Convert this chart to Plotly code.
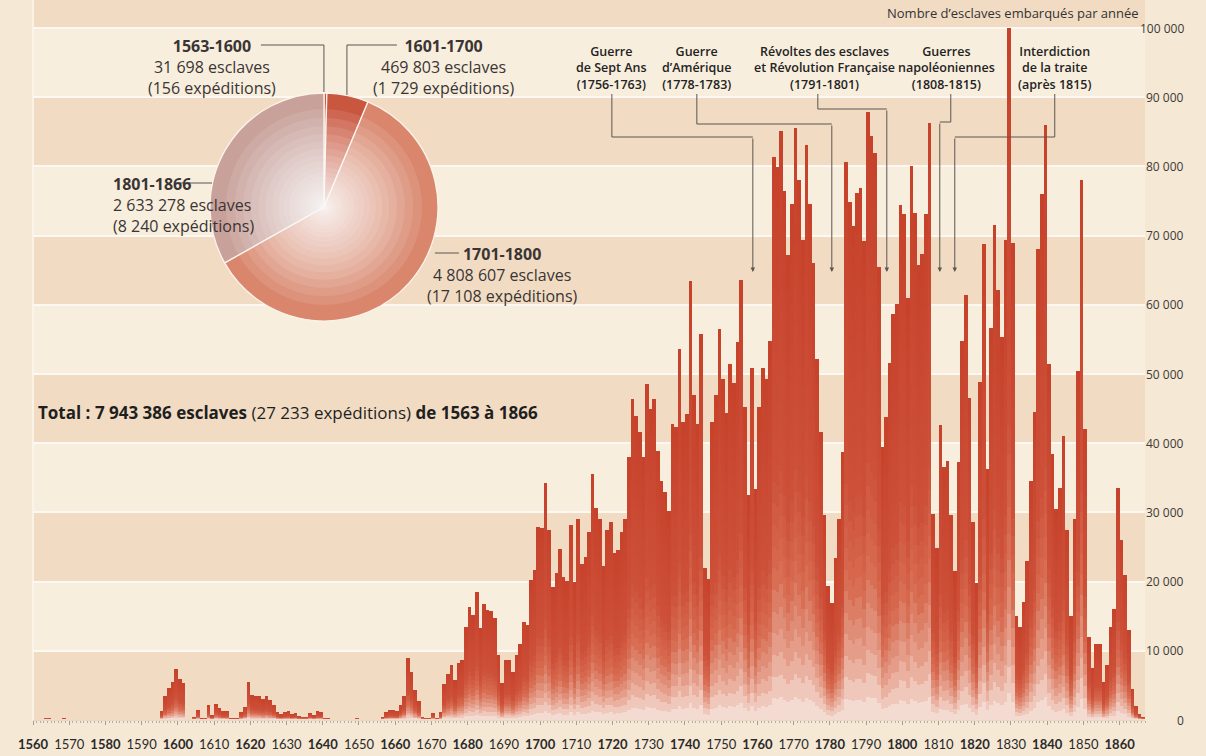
import plotly.graph_objects as go

# ---------------- data (thousands of slaves embarked per year) ----------------
years = list(range(1560, 1867))

slaves_1560_1599 = [0, 0, 0, 0.3, 0.2, 0, 0, 0.1, 0.2, 0,
                    0, 0, 0, 0, 0, 0, 0, 0, 0, 0,
                    0, 0, 0, 0, 0, 0, 0, 0.1, 0.1, 0,
                    0, 0, 0, 0, 0, 1.35, 3.4, 4.6, 5.5, 7.4]
slaves_1600_1699 = [5.9, 5.4, 0, 0, 0.5, 1.4, 0.2, 0.3, 2.1, 0.7,
                    2.3, 1.8, 1.3, 1.25, 0.2, 0.2, 0.2, 1.2, 1.9, 5.5,
                    3.6, 3.5, 3.4, 3.1, 3.4, 2.9, 2.2, 1.1, 0.8, 1.1,
                    1.25, 0.8, 1.0, 0.6, 0.5, 0.5, 1.0, 0.7, 1.25, 1.1,
                    0.3, 0.2, 0, 0, 0, 0, 0, 0, 0, 0.3,
                    0, 0, 0, 0, 0, 0, 0.5, 1.1, 1.45, 1.45,
                    1.3, 2.2, 3.4, 8.9, 7.0, 4.3, 2.8, 0.5, 0.3, 0.3,
                    1.0, 0.3, 1.2, 5.2, 6.7, 8.0, 5.8, 8.2, 8.7, 13.5,
                    16.4, 15.2, 18.5, 13.3, 16.7, 15.9, 15.8, 14.7, 9.4, 5.3,
                    8.7, 8.7, 7.0, 9.4, 11.0, 14.2, 13.7, 20.2, 21.7, 27.9]
slaves_1700_1799 = [27.7, 34.2, 27.5, 19.2, 21.3, 24.7, 20.6, 20.1, 28.2, 19.9,
                    29.0, 22.5, 23.5, 27.1, 35.5, 30.7, 29.0, 22.3, 27.4, 28.6,
                    24.2, 24.5, 27.1, 29.0, 38.0, 46.4, 44.0, 41.6, 38.0, 48.5,
                    45.0, 46.4, 38.9, 34.6, 32.9, 30.2, 42.8, 42.3, 53.6, 43.0,
                    44.2, 63.5, 46.9, 42.8, 55.8, 22.0, 20.4, 43.0, 46.9, 56.5,
                    49.3, 44.3, 51.4, 48.7, 54.6, 63.6, 45.2, 32.5, 50.9, 33.4,
                    45.2, 50.8, 49.3, 54.8, 81.4, 79.9, 85.1, 76.4, 67.2, 74.5,
                    85.5, 78.1, 69.3, 83.1, 74.6, 66.1, 52.2, 41.6, 29.6, 19.3,
                    16.9, 23.4, 29.0, 38.7, 80.6, 74.9, 71.4, 76.1, 76.9, 69.2,
                    87.8, 84.4, 81.9, 65.4, 39.5, 43.8, 51.6, 58.6, 60.1, 74.4]
slaves_1800_1866 = [73.1, 61.0, 80.0, 73.2, 65.7, 67.3, 73.1, 86.3, 29.8, 24.8,
                    42.6, 36.6, 37.5, 29.6, 21.6, 37.3, 54.8, 61.4, 46.6, 28.6,
                    19.8, 48.9, 68.8, 36.3, 56.6, 71.6, 62.2, 55.4, 69.4, 100.0,
                    69.0, 15.0, 13.5, 17.0, 23.0, 34.5, 44.5, 68.0, 76.0, 86.0,
                    51.5, 38.5, 30.5, 33.5, 41.0, 27.5, 15.0, 29.0, 50.5, 78.0,
                    42.0, 12.0, 7.5, 11.0, 11.0, 5.5, 8.0, 13.5, 16.0, 33.5,
                    26.0, 21.0, 13.0, 4.5, 2.0, 0.8, 0.5]
slaves_k = slaves_1560_1599 + slaves_1600_1699 + slaves_1700_1799 + slaves_1800_1866

pie_periods = ["1563-1600", "1601-1700", "1701-1800", "1801-1866"]
pie_slaves = [31698, 469803, 4808607, 2633278]
pie_slaves_txt = ["31 698", "469 803", "4 808 607", "2 633 278"]
pie_voyages_txt = ["156", "1 729", "17 108", "8 240"]

decades = list(range(1560, 1861, 10))
y_ticks_k = list(range(0, 101, 10))

events = ["Guerre<br>de Sept Ans<br>(1756-1763)",
          "Guerre<br>d\u2019Amérique<br>(1778-1783)",
          "Révoltes des esclaves<br>et Révolution Française<br>(1791-1801)",
          "Guerres<br>napoléoniennes<br>(1808-1815)",
          "Interdiction<br>de la traite<br>(après 1815)"]

# ---------------- geometry ----------------
W, H = 1206, 756
PPX = 3.623
XR0, XR1 = 1560, 1867
L, T, B = 33, 0, 36
PW = round((XR1 - XR0) * PPX)
R = W - L - PW
PH = H - T - B
PPV = 6.92
YR1 = PH / PPV


def xd(px):
    return XR0 + (px - L) / PPX


def yd(py):
    return (T + PH - py) / PPV


def xp(px):
    return (px - L) / PW


def yp(py):
    return (T + PH - py) / PH


FONT = "'Open Sans', Lato, sans-serif"
BG = "#f5e8d4"
LIGHT = "#f8eedd"
PEACH = "#f1dcc3"

fig = go.Figure()

# ---------------- gradient bars (stacked overlay layers) ----------------
stops = [(0.0, (246, 228, 220)), (0.05, (240, 204, 192)), (0.13, (229, 158, 138)),
         (0.26, (215, 106, 80)), (0.45, (205, 80, 56)), (1.0, (198, 66, 43))]


def grad(h):
    for (h0, c0), (h1, c1) in zip(stops[:-1], stops[1:]):
        if h0 <= h <= h1:
            t = (h - h0) / (h1 - h0)
            return "rgb(%d,%d,%d)" % tuple(round(a + (b - a) * t) for a, b in zip(c0, c1))
    return "rgb(%d,%d,%d)" % stops[-1][1]


bar_x = [y + 0.5 for y in years]
N = 26
for k in range(N):
    h = 1 - k / N
    fig.add_trace(go.Bar(x=bar_x, y=[v * h for v in slaves_k], width=1.0,
                         marker=dict(color=grad(h - 0.5 / N), line=dict(width=0)),
                         hoverinfo="skip", showlegend=False))

# ---------------- pie ----------------
cx, cy, rad = 324, 207, 114
fig.add_trace(go.Pie(values=pie_slaves, labels=pie_periods, sort=False,
                     direction="clockwise", rotation=0, textinfo="none",
                     hoverinfo="skip", showlegend=False,
                     marker=dict(colors=["#c9563f", "#c9563f", "#d9866d", "#c8a19a"],
                                 line=dict(color="#fbf3ea", width=1.3)),
                     domain=dict(x=[xp(cx - rad), xp(cx + rad)], y=[yp(cy + rad), yp(cy - rad)])))
NG = 24
for i in range(NG):
    r = 3 + 95 * (i / (NG - 1)) ** 2.2
    fig.add_trace(go.Pie(values=[1], labels=["g%d" % i], sort=False, textinfo="none",
                         hoverinfo="skip", showlegend=False,
                         marker=dict(colors=["rgba(255,255,255,0.1)"], line=dict(width=0)),
                         domain=dict(x=[xp(cx - r), xp(cx + r)], y=[yp(cy + r), yp(cy - r)])))

# ---------------- bands ----------------
shapes = []
for i, v in enumerate(range(0, 110, 10)):
    shapes.append(dict(type="rect", xref="paper", yref="y", x0=0, x1=1, y0=v, y1=min(v + 10, YR1),
                       fillcolor=PEACH if i % 2 == 0 else LIGHT, line=dict(width=0), layer="below"))
shapes.append(dict(type="line", xref="paper", yref="paper", x0=0, x1=0, y0=0, y1=1,
                   line=dict(color="#fcf7ef", width=1.5)))

line_style = dict(color="#5a5550", width=1)


def path(pts):
    s = "M %f,%f " % (xd(pts[0][0]), yd(pts[0][1]))
    for px, py in pts[1:]:
        s += "L %f,%f " % (xd(px), yd(py))
    return dict(type="path", xref="x", yref="y", path=s, line=line_style, layer="above")


# event leader lines
ev_x = [612, 697, 825, 947, 1055]
ev_paths = [[(612, 94), (612, 137), (753, 137)],
            [(697, 94), (697, 124), (832, 124)],
            [(818, 94), (818, 109), (887, 109)],
            [(951, 94), (951, 122), (940, 122)],
            [(1055, 94), (1055, 137), (955, 137)]]
for p in ev_paths:
    shapes.append(path(p))

# pie leader lines
for p in [[(261, 45), (324, 45), (324, 92)],
          [(347, 95), (347, 45), (397, 45)],
          [(174, 183), (212, 183)],
          [(435, 253), (459, 253)]]:
    shapes.append(path(p))

annotations = []
for p in ev_paths:
    px, py = p[-1]
    annotations.append(dict(x=xd(px), y=yd(272), ax=xd(px), ay=yd(py), xref="x", yref="y",
                            axref="x", ayref="y", showarrow=True, arrowhead=2, arrowsize=0.9,
                            arrowwidth=1, arrowcolor="#5a5550", text=""))
for txt, px in zip(events, ev_x):
    annotations.append(dict(x=xd(px), y=yd(68), xref="x", yref="y", text=txt, showarrow=False,
                            align="center", xanchor="center", yanchor="middle",
                            font=dict(family=FONT, size=12.5, color="#232323", weight=600)))

# pie labels
pie_lab_pos = [(212, 67, "center"), (444, 67, "center"), (503, 275, "center"), (111, 205, "left")]
for per, s, vtxt, (px, py, al) in zip(pie_periods, pie_slaves_txt, pie_voyages_txt, pie_lab_pos):
    annotations.append(dict(x=xd(px), y=yd(py), xref="x", yref="y", showarrow=False,
                            text="<b>%s</b><br>%s esclaves<br>(%s expéditions)" % (per, s, vtxt),
                            align=al, xanchor=al if al != "center" else "center", yanchor="middle",
                            font=dict(family=FONT, size=16, color="#3a3534")))

annotations.append(dict(x=xd(36), y=yd(412), xref="x", yref="y", showarrow=False,
                        xanchor="left", yanchor="middle",
                        text="<b>Total : 7 943 386 esclaves</b> (27 233 expéditions) <b>de 1563 à 1866</b>",
                        font=dict(family=FONT, size=17, color="#1f1f1f")))
annotations.append(dict(x=xp(1141), y=yd(13), xref="paper", yref="y", showarrow=False,
                        xanchor="right", yanchor="middle",
                        text="Nombre d\u2019esclaves embarqués par année",
                        font=dict(family=FONT, size=13, color="#333")))

for v in y_ticks_k:
    annotations.append(dict(x=xp(1186), y=v, xref="paper", yref="y", showarrow=False,
                            xanchor="right", yanchor="middle",
                            text=("%d 000" % v) if v else "0",
                            font=dict(family=FONT, size=12, color="#3d3a38")))

tick_text = [("<b>%d</b>" % d) if (d - 1560) % 20 == 0 else str(d) for d in decades]

fig.update_layout(
    width=W, height=H, margin=dict(l=L, r=R, t=T, b=B),
    paper_bgcolor=BG, plot_bgcolor=LIGHT,
    barmode="overlay", bargap=0,
    shapes=shapes, annotations=annotations,
    xaxis=dict(range=[XR0, XR1], tickmode="array", tickvals=decades, ticktext=tick_text,
               tickangle=0, ticks="outside", ticklen=4, tickcolor="#a99d8f",
               ticklabelstandoff=8,
               minor=dict(tickmode="linear", tick0=1560, dtick=1, ticks="outside", ticklen=2,
                          tickcolor="#b8ad9f", showgrid=False),
               showgrid=False, zeroline=False, showline=True, linecolor="#e3d9ca",
               tickfont=dict(family="Lato, sans-serif", size=13, color="#2a2a2a"),
               fixedrange=True),
    yaxis=dict(range=[0, YR1], showticklabels=False, ticks="", tickvals=y_ticks_k,
               showgrid=True, gridcolor="#fdf9f2", gridwidth=1.5, zeroline=False, fixedrange=True),
)

fig.write_html("out.html", config={"displayModeBar": False},
               post_script="document.body.style.margin='0';document.body.style.overflow='hidden';")
